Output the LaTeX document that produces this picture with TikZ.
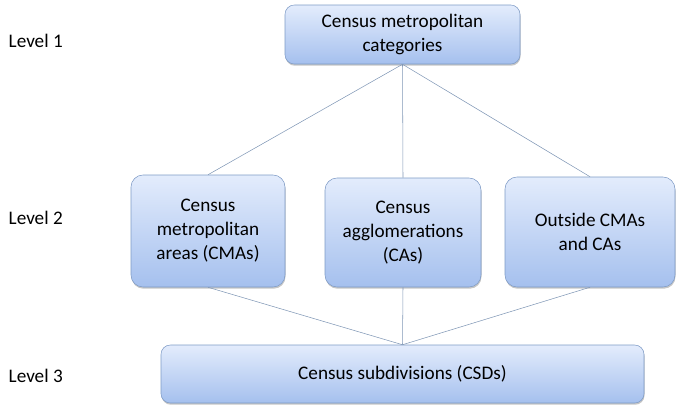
\documentclass[tikz,border=0pt]{standalone}
\usepackage{fontspec}
\setmainfont{Carlito}
\usetikzlibrary{shadows}
\definecolor{boxtop}{HTML}{E3ECFC}
\definecolor{boxbot}{HTML}{A5C0EE}
\definecolor{boxline}{HTML}{7E9BC6}
\definecolor{linkline}{HTML}{8097B6}

\begin{document}
\begin{tikzpicture}[x=0.75pt,y=-0.75pt,
  catbox/.style={rectangle,rounded corners=7pt,draw=boxline,thin,top color=boxtop,bottom color=boxbot,align=center,font=\fontsize{14.4}{18}\selectfont,drop shadow={shadow xshift=0.4pt,shadow yshift=-1.3pt,fill=black!50,opacity=0.45}},
  level/.style={anchor=west,font=\fontsize{14.4}{18}\selectfont},
  link/.style={draw=linkline,thin}]
\useasboundingbox (0,0) rectangle (684,412);

\node[catbox,minimum width=176.25pt,minimum height=44.25pt] (cats) at (402.5,34.5) {Census metropolitan\\categories};

\node[catbox,minimum width=115.5pt,minimum height=84pt,rounded corners=9pt] (cma) at (208,231) {Census\\metropolitan\\areas (CMAs)};
\node[catbox,minimum width=117pt,minimum height=81.75pt,rounded corners=9pt] (ca) at (403,232.5) {Census\\agglomerations\\(CAs)};
\node[catbox,minimum width=127.5pt,minimum height=82.5pt,rounded corners=9pt] (outside) at (590,232) {Outside CMAs\\and CAs};

\node[catbox,minimum width=362.25pt,minimum height=43.5pt] (csd) at (402.5,374) {Census subdivisions (CSDs)};

\node[level] (lvl1) at (4,41) {Level 1};
\node[level] (lvl2) at (4,218) {Level 2};
\node[level] (lvl3) at (4,376) {Level 3};

\draw[link] (cats.south) -- (cma.north);
\draw[link] (cats.south) -- (ca.north);
\draw[link] (cats.south) -- (outside.north);
\draw[link] (cma.south) -- (csd.north);
\draw[link] (ca.south) -- (csd.north);
\draw[link] (outside.south) -- (csd.north);

\end{tikzpicture}
\end{document}
